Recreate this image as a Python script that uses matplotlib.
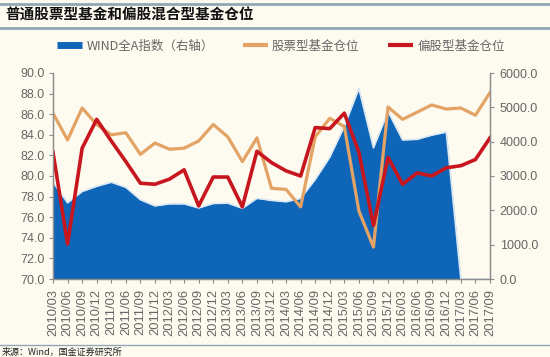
import matplotlib.pyplot as plt
import numpy as np
from matplotlib.lines import Line2D

# quarterly labels
quarters = ['2010/03', '2010/06', '2010/09', '2010/12', '2011/03', '2011/06', '2011/09', '2011/12',
            '2012/03', '2012/06', '2012/09', '2012/12', '2013/03', '2013/06', '2013/09', '2013/12',
            '2014/03', '2014/06', '2014/09', '2014/12', '2015/03', '2015/06', '2015/09', '2015/12',
            '2016/03', '2016/06', '2016/09', '2016/12', '2017/03', '2017/06', '2017/09']

# WIND all-A index (right axis)
wind_a = [2820, 2220, 2550, 2700, 2820, 2670, 2310, 2130, 2190, 2190, 2070, 2200, 2210, 2060, 2350, 2290,
          2250, 2350, 2900, 3550, 4450, 5550, 3820, 4880, 4050, 4070, 4190, 4280, 0, 0, 0]

# stock fund position (%)
stock_pos = [86.1, 83.5, 86.6, 85.0, 84.0, 84.2, 82.1, 83.2, 82.6, 82.7, 83.4, 85.0, 83.8, 81.4, 83.7, 78.8,
             78.7, 77.0, 83.8, 85.6, 84.8, 76.6, 73.1, 86.7, 85.5, 86.2, 86.9, 86.5, 86.6, 85.9, 88.1]

# equity-biased hybrid fund position (%)
mixed_pos = [82.3, 73.4, 82.7, 85.5, 83.4, 81.4, 79.3, 79.2, 79.7, 80.6, 77.1, 79.9, 79.9, 77.0, 82.4, 81.3,
             80.5, 80.0, 84.7, 84.6, 86.1, 82.3, 75.2, 81.8, 79.2, 80.3, 80.0, 80.8, 81.0, 81.6, 83.7]

bg = '#FDFAF0'
blue = '#0F66B9'
orange = '#E3A365'
red = '#C8161E'
grey = '#8C8C8C'
txt = '#666666'
cjk = ['Noto Sans CJK SC', 'DejaVu Sans']

plt.rcParams['font.family'] = ['Liberation Sans', 'DejaVu Sans']

fig = plt.figure(figsize=(5.5, 3.57), dpi=100, facecolor=bg)
W, H = 550.0, 357.0
ax = fig.add_axes([53 / W, 1 - 279 / H, (490 - 53) / W, (279 - 73) / H])
ax.set_facecolor(bg)
x = np.arange(len(quarters))

# area on the right axis
ax.fill_between(x, wind_a, color=blue, lw=0)
ax.plot(x, wind_a, color='#DCE8F2', lw=1.2, zorder=1)
ax.set_ylim(0, 6000)
ax.set_xlim(0, len(quarters) - 1)

ax2 = ax.twinx()
ax.yaxis.tick_right()
ax2.yaxis.tick_left()
ax2.plot(x, stock_pos, color=orange, lw=2.3)
ax2.plot(x, mixed_pos, color=red, lw=2.6)
ax2.set_ylim(70, 90)

ax.set_yticks(np.arange(0, 6001, 1000))
ax.set_yticklabels(['%.1f' % v for v in np.arange(0, 6001, 1000)])
ax2.set_yticks(np.arange(70, 90.1, 2))
ax2.set_yticklabels(['%.1f' % v for v in np.arange(70, 90.1, 2)])
ax.set_xticks(x)
ax.set_xticklabels(quarters, rotation=90)

for a in (ax, ax2):
    a.spines['top'].set_visible(False)
    for s in ('left', 'right', 'bottom'):
        a.spines[s].set_color(grey)
        a.spines[s].set_linewidth(0.9)
    a.tick_params(colors=grey, labelcolor=txt, labelsize=9, length=3, width=0.8)
ax.tick_params(axis='x', pad=4, labelsize=9.3)
ax.tick_params(axis='y', pad=4)
ax2.tick_params(axis='y', pad=3)

# legend
handles = [Line2D([], [], color=blue, lw=5, solid_capstyle='butt'),
           Line2D([], [], color=orange, lw=3, solid_capstyle='butt'),
           Line2D([], [], color=red, lw=3, solid_capstyle='butt')]
names = ['WIND全A指数（右轴）', '股票型基金仓位', '偏股型基金仓位']
leg = fig.legend(handles, names, ncol=3, loc='center', bbox_to_anchor=(281 / W, 1 - 46 / H),
                 frameon=False, prop={'family': cjk, 'size': 9}, handlelength=2.0,
                 handletextpad=0.35, columnspacing=2.3)
for t in leg.get_texts():
    t.set_color(txt)

# title bar and source
fig.add_artist(Line2D([0, 1], [1 - 3.5 / H] * 2, transform=fig.transFigure, color='#8FA8B4', lw=2))
fig.add_artist(Line2D([0, 1], [1 - 28 / H] * 2, transform=fig.transFigure, color='#8FA8B4', lw=2))
fig.text(5 / W, 1 - 15 / H, '普通股票型基金和偏股混合型基金仓位', family=cjk, fontsize=10.5,
         fontweight='bold', va='center', ha='left', color='#111111')
fig.add_artist(Line2D([0, 1], [1 - 345 / H] * 2, transform=fig.transFigure, color='#8FA8B4', lw=1))
fig.text(2 / W, 1 - 352 / H, '来源：Wind，国金证券研究所', family=cjk, fontsize=6.5,
         va='center', ha='left', color='#222222')

fig.savefig('out.png', dpi=100, facecolor=bg)
